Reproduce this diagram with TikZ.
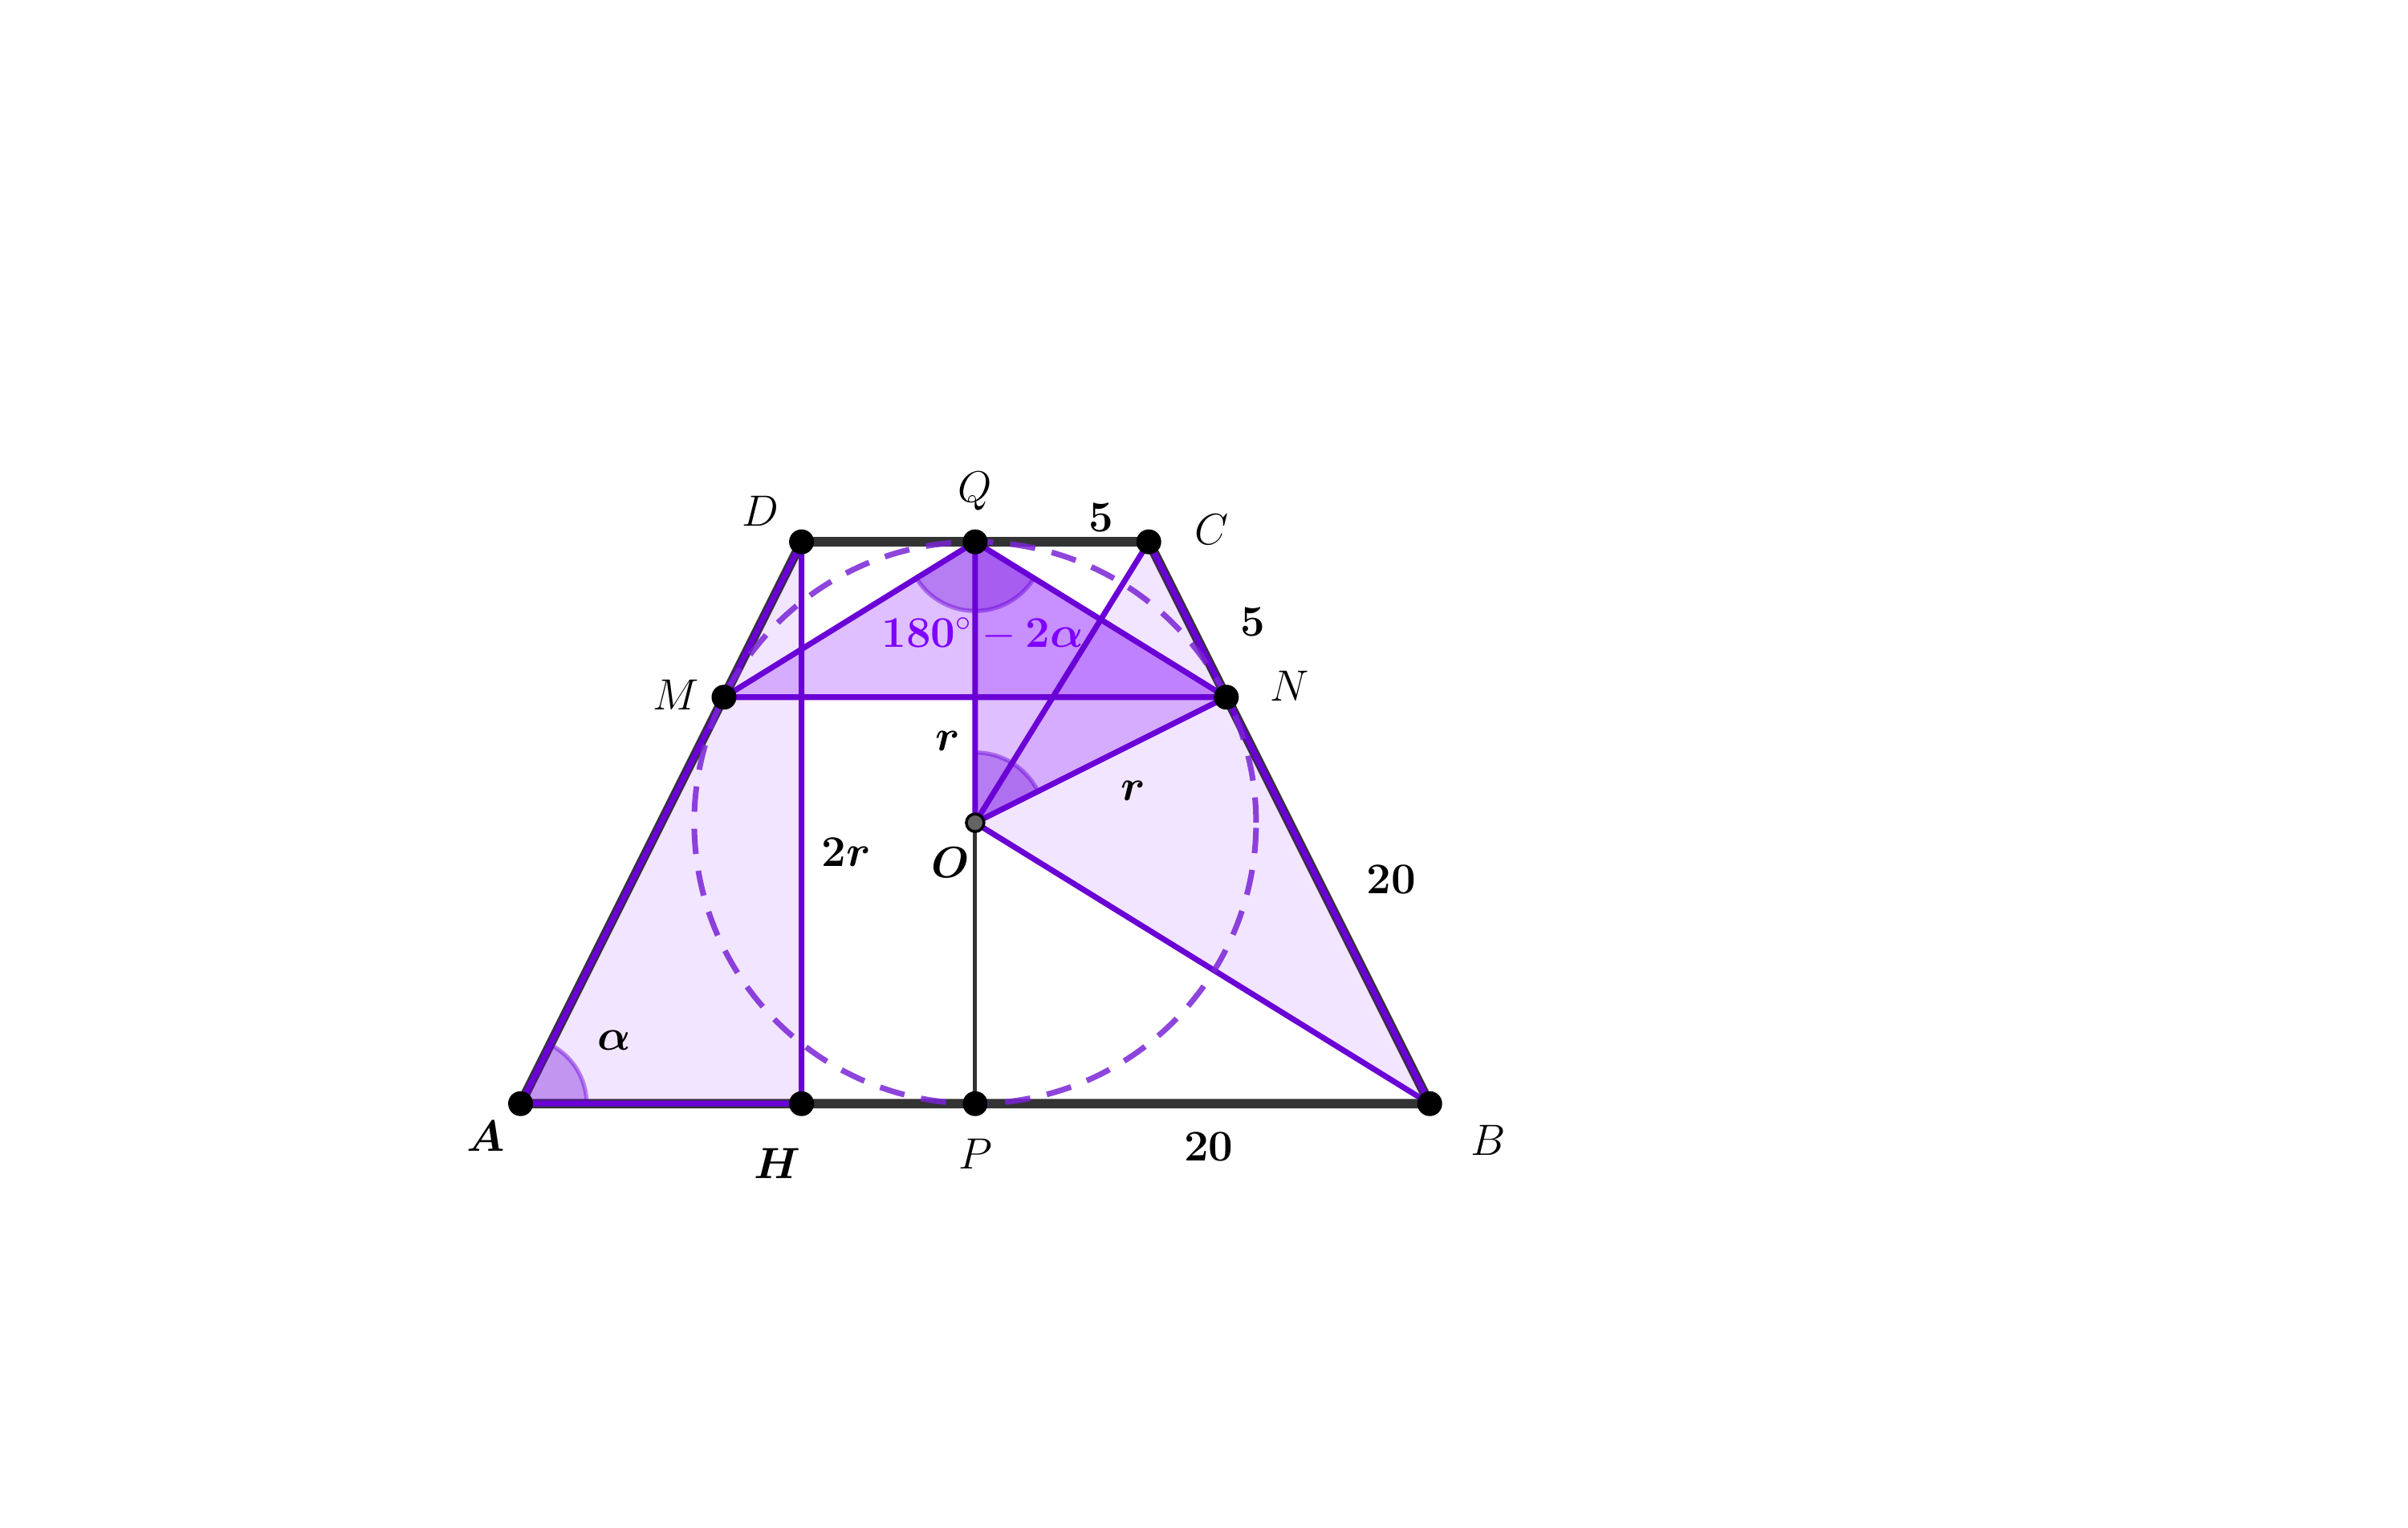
\RequirePackage{fix-cm}
\documentclass[tikz,border=0pt]{standalone}
\usepackage{amsmath,amssymb}
\usepackage{xcolor}
\usepackage{tikz}
\usetikzlibrary{calc,positioning}

\definecolor{ggbline}{RGB}{106,0,214}
\definecolor{ggbfill}{RGB}{127,0,255}
\definecolor{ggbcirc}{RGB}{122,36,214}
\definecolor{ggbgray}{RGB}{51,51,51}

\begin{document}
\begin{tikzpicture}[x=3.5cm,y=3.5cm,
    side/.style={line width=3.4pt, ggbgray},
    seg/.style={line width=2pt, ggbline, line join=round},
    lite/.style={fill=ggbfill, fill opacity=0.1},
    mid/.style={fill=ggbfill, fill opacity=0.25},
    ang/.style={fill=ggbline, fill opacity=0.35, draw=ggbline, draw opacity=0.45, line width=1.5pt},
    lbl/.style={font=\fontsize{15.5}{18}\selectfont}]
    \useasboundingbox (-3.471,-2.509) rectangle (5.1,2.929);
    % points of the trapezoid and the incircle
    \coordinate (O) at (0,0);
    \coordinate (A) at (-1.618,-1);
    \coordinate (B) at (1.618,-1);
    \coordinate (C) at (0.618,1);
    \coordinate (D) at (-0.618,1);
    \coordinate (Q) at (0,1);
    \coordinate (P) at (0,-1);
    \coordinate (H) at (-0.618,-1);
    \coordinate (M) at (-0.894,0.447);
    \coordinate (N) at (0.894,0.447);

    \draw[side] (A) -- (B) -- (C) -- (D) -- cycle;

    % shaded triangles
    \fill[lite] (A) -- (H) -- (D) -- cycle;
    \fill[lite] (O) -- (C) -- (B) -- cycle;
    \fill[mid] (M) -- (Q) -- (N) -- cycle;
    \fill[mid] (Q) -- (O) -- (N) -- cycle;

    % angles
    \filldraw[ang] (A) -- ++(0:0.235) arc[start angle=0, end angle=63.43, radius=0.235] -- cycle;
    \filldraw[ang] (Q) -- ++(211.7:0.246) arc[start angle=211.7, end angle=328.3, radius=0.246] -- cycle;
    \filldraw[ang] (O) -- ++(26.57:0.25) arc[start angle=26.57, end angle=90, radius=0.25] -- cycle;

    \draw[seg] (A) -- (H) -- (D) -- cycle;
    \draw[seg] (O) -- (C) -- (B) -- cycle;
    \draw[seg] (M) -- (Q) -- (N) -- cycle;
    \draw[seg] (Q) -- (O) -- (N);
    \draw[line width=1.4pt, ggbgray] (O) -- (P);

    \draw[ggbcirc, line width=2pt, dash pattern=on 9pt off 6pt, draw opacity=0.85] (O) circle[radius=1];

    \foreach \p in {A,B,C,D,M,N,P,Q,H}
        \fill (\p) circle[radius=1.55mm];
    \filldraw[fill={rgb,255:red,100;green,100;blue,100}, draw=black, line width=1pt] (O) circle[radius=1.1mm];

    % labels
    \node[lbl] (lA) at (-1.743,-1.115) {$\boldsymbol{A}$};
    \node[lbl] (lB) at (1.825,-1.131) {$B$};
    \node[lbl] (lC) at (0.842,1.044) {$C$};
    \node[lbl] (lD) at (-0.765,1.109) {$D$};
    \node[lbl] (lQ) at (0,1.18) {$Q$};
    \node[lbl] (lP) at (0,-1.18) {$P$};
    \node[lbl] (lH) at (-0.705,-1.213) {$\boldsymbol{H}$};
    \node[lbl] (lM) at (-1.066,0.454) {$M$};
    \node[lbl] (lN) at (1.120,0.486) {$N$};
    \node[lbl] (lO) at (-0.087,-0.142) {$\boldsymbol{O}$};
    \node[lbl] (lQC) at (0.448,1.087) {$\mathbf{5}$};
    \node[lbl] (lCN) at (0.989,0.716) {$\mathbf{5}$};
    \node[lbl] (lNB) at (1.481,-0.202) {$\mathbf{20}$};
    \node[lbl] (lPB) at (0.831,-1.153) {$\mathbf{20}$};
    \node[lbl] (lOQ) at (-0.098,0.29) {$\boldsymbol{r}$};
    \node[lbl] (lON) at (0.563,0.115) {$\boldsymbol{r}$};
    \node[lbl] (lDH) at (-0.459,-0.104) {$\mathbf{2}\boldsymbol{r}$};
    \node[lbl] (lalpha) at (-1.284,-0.776) {$\boldsymbol{\alpha}$};
    \node[lbl, ggbfill] (lQang) at (0.027,0.672) {$\mathbf{180^\circ-2}\boldsymbol{\alpha}$};
\end{tikzpicture}
\end{document}
